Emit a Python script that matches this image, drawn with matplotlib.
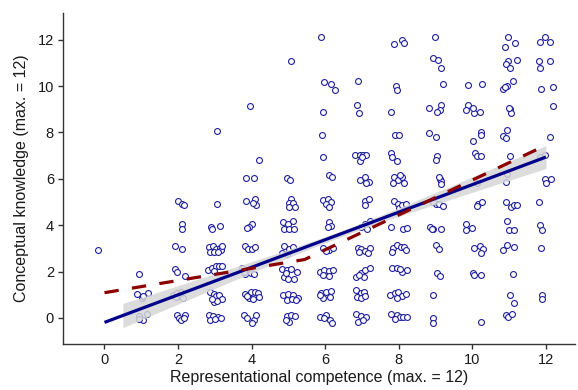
#!/usr/bin/env python3
"""Conceptual knowledge vs representational competence: jittered scores,
linear fit with 95% band, and a segmented fit (dashed)."""
import numpy as np
import matplotlib
matplotlib.use("Agg")
import matplotlib.pyplot as plt

NAVY, PTS, RED, BAND, INK = "#00008b", "#1f1f9c", "#8b0000", "#d6d6d6", "#1a1a1a"
plt.rcParams.update({"font.family": ["Liberation Sans", "DejaVu Sans"]})

# jittered points (x, y), one list per competence score
c0 = [(-0.18, 2.93)]
c1 = [(0.95, 1.89), (0.89, 1.02), (1.02, 0.88), (1.18, 1.09), (1.05, 0.95),
      (0.95, 0.09), (1.15, 0.19), (1.05, -0.09), (0.93, -0.04)]
c2 = [(2.00, 5.06), (2.10, 4.93), (2.16, 4.86), (2.12, 4.04), (2.12, 3.83),
      (1.93, 3.09), (2.12, 2.99), (1.92, 2.10), (1.98, 2.00), (2.18, 1.81),
      (1.86, 1.00), (1.98, 1.08), (2.03, 0.95), (2.14, 0.88), (1.94, 0.92), (2.08, 1.12),
      (1.97, 0.14), (2.02, -0.01), (2.07, -0.09), (2.20, 0.13), (2.17, 0.00)]
c3 = [(3.07, 8.07), (3.07, 4.93), (2.90, 3.91), (2.91, 3.84), (3.15, 3.97),
      (2.85, 3.06), (2.95, 3.12), (3.03, 2.98), (2.88, 2.86), (2.99, 2.84),
      (3.13, 3.02), (3.18, 2.92), (3.08, 2.86), (3.20, 3.10),
      (2.82, 2.06), (2.93, 2.14), (3.02, 2.22), (3.11, 2.26), (3.20, 2.23), (2.98, 2.03),
      (2.86, 1.10), (2.97, 1.05), (3.03, 0.95), (3.12, 1.00), (3.20, 0.80), (2.97, 0.70),
      (3.07, 0.75), (2.92, 0.82),
      (2.83, 0.13), (2.95, 0.08), (3.09, 0.05), (3.18, 0.02), (2.88, -0.10), (3.00, -0.03)]
c4 = [(3.96, 9.12), (4.19, 6.83), (3.86, 6.04), (4.07, 6.04),
      (3.84, 5.06), (4.08, 5.12), (4.12, 4.88), (4.04, 4.96),
      (4.00, 4.06), (3.94, 3.92), (3.88, 3.88),
      (3.82, 3.12), (3.89, 2.98), (4.00, 2.96), (4.09, 3.06),
      (3.74, 2.14), (3.88, 2.07), (3.97, 1.95), (4.06, 1.91), (3.83, 1.88), (3.79, 1.97),
      (3.83, 1.02), (3.97, 1.10), (4.10, 1.14), (4.18, 1.06), (3.92, 0.85), (4.05, 0.82),
      (4.19, 0.92), (3.88, 0.95),
      (3.79, 0.14), (3.88, 0.00), (4.06, -0.10), (4.11, 0.12), (4.02, -0.20)]
c5 = [(5.06, 11.06), (4.97, 6.04), (5.05, 5.96),
      (5.08, 5.13), (5.02, 4.96), (5.13, 4.96), (5.18, 4.80), (5.02, 4.78),
      (4.84, 4.15), (4.98, 4.05), (5.12, 4.20), (4.88, 3.83), (5.01, 3.83), (5.15, 3.83),
      (4.88, 3.12), (5.02, 2.98), (5.12, 3.08), (4.83, 2.80), (4.96, 2.78),
      (4.82, 2.10), (4.97, 2.06), (5.08, 2.10), (5.22, 2.00), (4.87, 1.78), (5.00, 1.68),
      (5.16, 1.68), (4.94, 1.93),
      (4.86, 0.98), (4.99, 1.05), (5.13, 0.98), (5.26, 0.84), (4.95, 0.76), (5.09, 0.80),
      (5.20, 0.76),
      (4.95, 0.08), (5.07, 0.14), (5.18, 0.08), (5.02, -0.16), (4.93, -0.09)]
c6 = [(5.89, 12.11), (5.96, 10.16), (6.17, 10.10), (6.26, 9.81), (5.93, 8.90),
      (5.91, 7.90), (5.93, 6.92), (6.10, 6.17), (6.19, 6.10),
      (5.95, 5.10), (6.08, 5.12), (6.17, 4.98), (6.02, 4.90), (6.11, 4.80),
      (6.11, 4.15), (6.17, 3.96), (6.08, 3.92),
      (5.95, 3.00), (6.09, 2.93), (6.03, 2.90), (6.20, 3.00),
      (5.87, 1.99), (5.98, 2.09), (6.09, 2.04), (6.20, 2.09), (5.94, 1.86), (6.09, 1.82),
      (5.89, 1.06), (6.03, 1.13), (6.16, 1.18), (6.12, 0.92), (5.94, 0.88), (5.85, 1.00),
      (5.87, 0.06), (6.03, 0.13), (6.12, -0.09), (6.19, -0.20), (5.98, 0.00)]
c7 = [(6.89, 10.20), (6.86, 9.18), (6.92, 8.83),
      (6.82, 7.04), (6.95, 7.04), (7.04, 7.04), (7.11, 7.04), (6.94, 6.78), (7.00, 6.95),
      (6.95, 5.95), (7.09, 6.06), (7.18, 5.88), (7.11, 5.84),
      (7.09, 5.06), (7.18, 5.13), (7.07, 4.86),
      (6.98, 3.94), (7.09, 4.06), (7.22, 4.16), (7.13, 3.82),
      (6.89, 3.00), (6.98, 2.96), (7.09, 2.90), (7.21, 3.00), (7.15, 2.82), (6.93, 2.86),
      (6.84, 1.78), (6.98, 1.92), (7.09, 2.06), (7.21, 2.14), (7.05, 1.78), (6.93, 1.86),
      (6.84, 1.20), (6.96, 1.06), (7.05, 1.13), (6.86, 0.92), (6.97, 0.85), (7.09, 0.95),
      (6.84, 0.17), (6.98, 0.09), (6.89, -0.16), (7.12, 0.03), (7.03, -0.09)]
c8 = [(7.88, 11.80), (8.10, 12.00), (8.13, 11.85), (7.93, 10.00), (7.96, 9.84),
      (7.80, 8.90), (7.89, 7.90), (8.01, 7.90),
      (7.78, 7.10), (7.82, 6.92), (7.94, 6.75),
      (7.88, 6.07), (7.97, 5.95), (8.08, 6.10), (8.15, 5.84), (8.02, 6.17), (7.83, 5.84),
      (7.88, 5.06), (7.97, 4.90), (8.01, 4.75), (8.10, 4.85), (8.20, 4.92),
      (7.80, 3.94), (8.12, 3.82), (8.22, 3.90),
      (7.85, 3.00), (7.94, 3.14), (8.06, 3.07), (8.13, 3.04), (7.82, 2.86), (8.20, 2.92),
      (7.82, 2.14), (7.94, 2.14), (8.08, 2.00), (8.03, 2.10), (8.22, 2.05),
      (7.76, 1.01), (7.90, 1.08), (7.99, 1.10), (8.08, 0.94), (7.94, 0.86), (8.20, 1.05),
      (7.80, 0.17), (7.94, 0.14), (8.03, 0.03), (8.12, 0.06), (7.90, -0.06), (8.22, 0.03)]
c9 = [(8.98, 12.11), (8.94, 11.20), (9.07, 11.14), (9.16, 10.80), (9.19, 10.08),
      (8.83, 9.05), (9.16, 9.20), (9.12, 8.98), (9.05, 8.90),
      (8.83, 7.98), (9.01, 7.80), (9.05, 6.98), (9.01, 6.80),
      (9.12, 6.00), (9.16, 5.92), (9.14, 5.78), (9.10, 6.08),
      (9.01, 4.92), (9.10, 4.92), (9.19, 4.84), (8.94, 5.02),
      (8.85, 3.94), (8.94, 3.82), (9.16, 3.85), (8.90, 3.82),
      (9.01, 3.14), (9.10, 2.98), (9.05, 1.92), (9.12, 1.80),
      (8.92, 1.00), (8.92, 0.00), (8.94, -0.20)]
c10 = [(9.89, 10.06), (10.27, 10.08),
       (9.89, 9.20), (9.84, 8.95), (10.05, 8.83), (10.20, 8.88), (10.03, 9.04),
       (10.23, 8.00), (10.23, 7.90), (10.02, 7.65),
       (10.08, 7.10), (10.12, 7.00), (10.23, 6.97), (10.12, 5.80),
       (10.15, 4.92), (10.25, 4.98), (10.12, 4.84),
       (9.84, 4.05), (10.00, 3.87), (9.82, 3.80),
       (10.05, 3.02), (10.20, 3.12), (10.28, 2.96), (10.23, 2.82),
       (10.02, 1.94), (10.23, 1.87), (10.05, 1.85), (10.23, -0.16)]
c11 = [(10.98, 12.10), (11.17, 11.85), (10.88, 11.70),
       (10.98, 11.10), (11.20, 11.14), (10.91, 10.96), (11.03, 10.78),
       (11.10, 10.20), (10.93, 10.01), (10.84, 9.87), (10.88, 9.94),
       (11.03, 9.02), (11.05, 8.85), (11.00, 9.06),
       (10.93, 8.10), (10.84, 7.85), (10.91, 7.78), (11.03, 6.98),
       (10.93, 6.20), (10.91, 5.88),
       (10.91, 4.98), (11.05, 4.80), (11.14, 4.88), (11.22, 4.88),
       (10.95, 4.17), (11.00, 3.78), (11.14, 3.78),
       (10.84, 2.93), (10.95, 3.14), (11.14, 3.04), (11.10, 1.90),
       (11.03, 0.98), (11.14, 0.65),
       (10.91, 0.12), (10.98, 0.05), (11.07, 0.15)]
c12 = [(11.84, 11.90), (11.98, 12.10), (12.12, 11.90),
       (11.82, 11.06), (12.10, 11.10), (11.83, 10.80),
       (11.86, 9.88), (12.19, 9.98), (12.19, 9.15), (12.10, 7.80),
       (11.98, 7.03), (11.85, 6.95),
       (11.98, 6.00), (12.15, 6.00), (12.00, 5.80), (11.82, 4.98),
       (11.83, 4.00), (11.88, 3.80), (11.86, 3.00), (11.88, 1.00), (11.90, 0.83)]

# linear fit as drawn in the figure: intercept, slope and 95% band shape
lm_coef = (-0.19, 0.594)
band_min, band_slope, band_centre = 0.13, 0.085, 6.43   # half-width = sqrt(min^2 + (slope*(x-c))^2)
band_range = (0.5, 12.0)

# segmented fit (dashed): knots and fitted values
seg_x = [0.0, 5.44, 12.0]
seg_y = [1.09, 2.52, 7.45]

X_TICKS = [0, 2, 4, 6, 8, 10, 12]
Y_TICKS = [0, 2, 4, 6, 8, 10, 12]

pts = np.array(c0 + c1 + c2 + c3 + c4 + c5 + c6 + c7 + c8 + c9 + c10 + c11 + c12)
jx, jy = pts[:, 0], pts[:, 1]

fig = plt.figure(figsize=(5.78, 3.9), dpi=100)
ax = fig.add_axes([63 / 578, 46 / 390, 512 / 578, 331 / 390])

ax.scatter(jx, jy, s=18, facecolors="white", edgecolors=PTS, linewidths=0.8, zorder=2)

b0, b1 = lm_coef
xb = np.linspace(*band_range, 100)
hw = np.sqrt(band_min ** 2 + (band_slope * (xb - band_centre)) ** 2)
ax.fill_between(xb, b0 + b1 * xb - hw, b0 + b1 * xb + hw, color=BAND, alpha=0.85,
                linewidth=0, zorder=3)
xl = np.array([0, 12])
ax.plot(xl, b0 + b1 * xl, color=NAVY, lw=2.3, solid_capstyle="butt", zorder=4)
ax.plot(seg_x, seg_y, color=RED, lw=2.3, dashes=(4.5, 4.2), zorder=5)

ax.set_xlim(-1.128, 12.79)
ax.set_ylim(-1.122, 13.15)
ax.set_xticks(X_TICKS)
ax.set_yticks(Y_TICKS)
for sp in ["top", "right"]:
    ax.spines[sp].set_visible(False)
for sp in ["left", "bottom"]:
    ax.spines[sp].set_color("#333333")
    ax.spines[sp].set_linewidth(1.0)
ax.tick_params(length=3.5, width=1.0, color="#333333", labelsize=10.5, labelcolor=INK, pad=3)
ax.set_xlabel("Representational competence (max. = 12)", fontsize=11.5, color=INK, labelpad=2)
ax.set_ylabel("Conceptual knowledge (max. = 12)", fontsize=11.5, color=INK, labelpad=6)

fig.savefig("out.png", dpi=100)
